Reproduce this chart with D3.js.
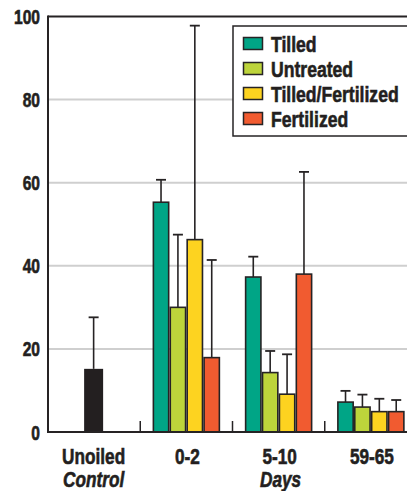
<!DOCTYPE html>
<html><head><meta charset="utf-8">
<script src="https://cdn.jsdelivr.net/npm/d3@7"></script>
<style>
html,body{margin:0;padding:0;background:#fff;}
svg{display:block;}
text{font-family:"Liberation Sans","Arial",sans-serif;font-weight:bold;fill:#231f20;stroke:#231f20;stroke-width:0.6px;}
</style></head>
<body>
<svg id="chart" width="407" height="491"></svg>
<script>
// ---- data ----
const categories = ["Unoiled", "0-2", "5-10", "59-65"];
const categorySub = ["Control", "", "Days", ""];
const groups = ["0-2", "5-10", "59-65"];
const seriesNames = ["Tilled", "Untreated", "Tilled/Fertilized", "Fertilized"];
const controlValue = 15.2;
const controlError = 27.6;
const tilled = [55.3, 37.3, 7.2];
const tilledErr = [60.7, 42.2, 9.9];
const untreated = [30.0, 14.3, 6.0];
const untreatedErr = [47.5, 19.5, 9.0];
const tilledFert = [46.3, 9.1, 4.9];
const tilledFertErr = [97.8, 18.7, 8.0];
const fertilized = [17.9, 38.0, 4.9];
const fertilizedErr = [41.4, 62.6, 7.7];
const yTicks = [0, 20, 40, 60, 80, 100];
const colors = ["#00a586", "#bdd43b", "#fdd320", "#f15b30"];

const seriesVals = [tilled, untreated, tilledFert, fertilized];
const seriesErrs = [tilledErr, untreatedErr, tilledFertErr, fertilizedErr];

const svg = d3.select("#chart");
const x = d3.scaleBand().domain(categories).range([48, 417]).padding(0);
const y = d3.scaleLinear().domain([0, 100]).range([432, 16.5]);
const inner = d3.scaleBand().domain(seriesNames).range([-33.8, 33.8]).padding(0);
const dark = "#262324";
const SX = 0.8; // condensed look

function ctext(g, tx, ty, str, size, anchor, italic) {
  const t = g.append("text")
    .attr("transform", `translate(${tx},${ty}) scale(${SX},1)`)
    .attr("text-anchor", anchor || "start")
    .style("font-size", size + "px")
    .text(str);
  if (italic) t.style("font-style", "italic");
  return t;
}

// gridlines
svg.append("g").selectAll("line").data(yTicks.filter(d => d > 0 && d < 100)).join("line")
  .attr("x1", 48).attr("x2", 407)
  .attr("y1", d => y(d)).attr("y2", d => y(d))
  .attr("stroke", "#cfcfcf").attr("stroke-width", 2);

// y axis labels (axis generator for positions, condensed text)
const yAxis = d3.axisLeft(y).tickValues(yTicks).tickSize(0).tickFormat("");
const gy = svg.append("g").attr("transform", "translate(48,0)").call(yAxis);
gy.select(".domain").remove();
gy.selectAll(".tick").each(function(d) {
  ctext(d3.select(this), -8, 7, String(d), 19.5, "end");
});

// frame lines
svg.append("line").attr("x1", 48).attr("x2", 407).attr("y1", y(100)).attr("y2", y(100)).attr("stroke", dark).attr("stroke-width", 2);
svg.append("line").attr("x1", 48).attr("x2", 48).attr("y1", y(100) - 1).attr("y2", y(0) + 1).attr("stroke", dark).attr("stroke-width", 2);

// x ticks at band boundaries
svg.append("g").selectAll("line").data(categories.slice(1)).join("line")
  .attr("x1", d => x(d)).attr("x2", d => x(d))
  .attr("y1", y(0)).attr("y2", y(0) - 11)
  .attr("stroke", dark).attr("stroke-width", 1.5);

// error bars helper
function errorBar(g, cx, v, e) {
  g.append("line").attr("x1", cx).attr("x2", cx).attr("y1", y(v)).attr("y2", y(e))
    .attr("stroke", dark).attr("stroke-width", 1.6);
  g.append("line").attr("x1", cx - 5).attr("x2", cx + 5).attr("y1", y(e)).attr("y2", y(e))
    .attr("stroke", dark).attr("stroke-width", 1.8);
}

// control bar
const cg = svg.append("g");
const cx0 = x("Unoiled") + x.bandwidth() / 2 - 0.5;
errorBar(cg, cx0, controlValue, controlError);
cg.append("rect").attr("x", cx0 - 9.5).attr("width", 19)
  .attr("y", y(controlValue)).attr("height", y(0) - y(controlValue))
  .attr("fill", "#231f20");

// grouped bars
groups.forEach((grp, gi) => {
  const g = svg.append("g");
  const c = x(grp) + x.bandwidth() / 2;
  seriesNames.forEach((s, si) => {
    const bx = c + inner(s);
    errorBar(g, bx + inner.bandwidth() / 2, seriesVals[si][gi], seriesErrs[si][gi]);
  });
  seriesNames.forEach((s, si) => {
    const bx = c + inner(s);
    const v = seriesVals[si][gi];
    g.append("rect").attr("x", bx + 0.8).attr("width", inner.bandwidth() - 1.6)
      .attr("y", y(v)).attr("height", y(0) - y(v))
      .attr("fill", colors[si]).attr("stroke", dark).attr("stroke-width", 1.6);
  });
});

// bottom axis line
svg.append("line").attr("x1", 47).attr("x2", 407).attr("y1", y(0)).attr("y2", y(0)).attr("stroke", dark).attr("stroke-width", 2);

// x labels
const xl = svg.append("g");
categories.forEach((c, i) => {
  ctext(xl, x(c) + x.bandwidth() / 2 + (i === 0 ? -0.5 : 1), 464, c, 21.5, "middle");
});
categorySub.forEach((t, i) => {
  if (!t) return;
  const cx = i === 0 ? x(categories[0]) + x.bandwidth() / 2 - 0.5 : x(categories[2]) + x.bandwidth() / 2 + 2;
  ctext(xl, cx, 487, t, 21.5, "middle", true);
});

// legend
const lg = svg.append("g");
lg.append("rect").attr("x", 233).attr("y", 26).attr("width", 200).attr("height", 110)
  .attr("fill", "#fff").attr("stroke", dark).attr("stroke-width", 1.5);
seriesNames.forEach((s, i) => {
  const cy = 44 + i * 25;
  lg.append("rect").attr("x", 243.5).attr("y", cy - 6.5).attr("width", 19).attr("height", 12)
    .attr("fill", colors[i]).attr("stroke", dark).attr("stroke-width", 1.5);
  ctext(lg, 271, cy + 8, s, 22, "start");
});
</script>
</body></html>
